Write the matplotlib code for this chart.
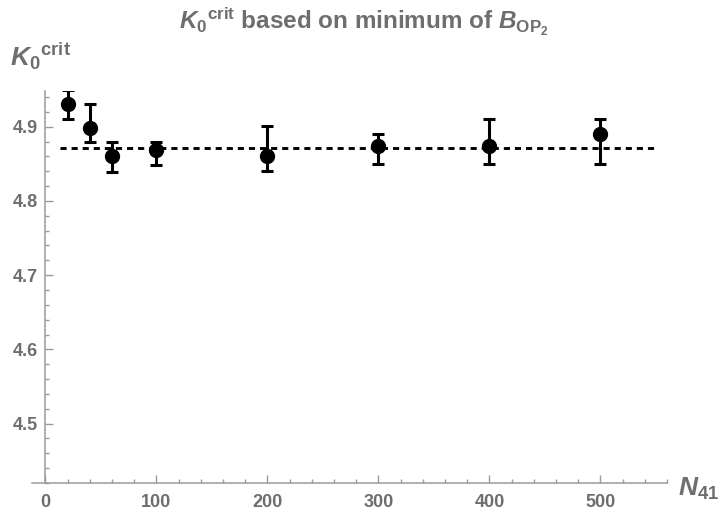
import matplotlib as mp
mp.use('Agg')
import matplotlib.pyplot as plt
import matplotlib.ticker as mticker
import numpy as np

# Daten
n41 = [20, 40, 60, 100, 200, 300, 400, 500]
k0crit = [4.930, 4.898, 4.860, 4.869, 4.860, 4.874, 4.874, 4.890]
err_hi = [4.949, 4.931, 4.880, 4.880, 4.901, 4.890, 4.910, 4.910]
err_lo = [4.910, 4.880, 4.839, 4.849, 4.840, 4.850, 4.850, 4.850]
k0_mean = 4.8715
mean_range = [13, 550]

grey_text = '#6e6e6e'
grey_axis = '#9a9a9a'

mp.rcParams['font.family'] = 'Liberation Sans'
mp.rcParams['mathtext.fontset'] = 'custom'
mp.rcParams['mathtext.rm'] = 'Liberation Sans'
mp.rcParams['mathtext.it'] = 'Liberation Sans:italic'
mp.rcParams['mathtext.bf'] = 'Liberation Sans:bold'
mp.rcParams['mathtext.bfit'] = 'Liberation Sans:italic:bold'

fig = plt.figure(figsize=(7.27, 5.12), dpi=100)
ax = fig.add_axes([0.044, 0.0566, 0.8735, 0.7656])

yerr = [np.array(k0crit) - np.array(err_lo), np.array(err_hi) - np.array(k0crit)]
ax.errorbar(n41, k0crit, yerr=yerr, fmt='o', color='black', markersize=10,
            elinewidth=2.2, capsize=4, capthick=2.2, zorder=3)
ax.plot(mean_range, [k0_mean, k0_mean], color='black', lw=2.1,
        linestyle=(0, (2.1, 1.7)), zorder=2)

ax.set_xlim(-12, 560)
ax.set_ylim(4.42, 4.948)

for s in ['top', 'right']:
    ax.spines[s].set_visible(False)
ax.spines['left'].set_position(('data', 0))
for s in ['left', 'bottom']:
    ax.spines[s].set_color(grey_axis)
    ax.spines[s].set_linewidth(1.1)

ax.xaxis.set_major_locator(mticker.FixedLocator([0, 100, 200, 300, 400, 500]))
ax.xaxis.set_minor_locator(mticker.MultipleLocator(20))
ax.yaxis.set_major_locator(mticker.FixedLocator([4.5, 4.6, 4.7, 4.8, 4.9]))
ax.yaxis.set_minor_locator(mticker.MultipleLocator(0.02))
ax.yaxis.set_major_formatter(mticker.FormatStrFormatter('%.1f'))

ax.tick_params(which='both', direction='in', color=grey_axis, width=1.0,
               labelcolor=grey_text, labelsize=13)
ax.tick_params(which='major', length=5.5)
ax.tick_params(axis='x', which='major', pad=8)
ax.tick_params(axis='y', which='major', pad=5)
ax.tick_params(which='minor', length=3)
for lab in ax.get_xticklabels() + ax.get_yticklabels():
    lab.set_fontweight('bold')

fig.text(0.5, 0.988, r'${\mathbfit{K}_\mathbf{0}}^\mathbf{crit}$ based on minimum of $\mathbfit{B}_{\mathbf{OP}_\mathbf{2}}$',
         ha='center', va='top', fontsize=17.5, fontweight='bold', color=grey_text)
fig.text(0.014, 0.92, r'${\mathbfit{K}_\mathbf{0}}^\mathbf{crit}$', ha='left', va='top',
         fontsize=19, color=grey_text)
fig.text(0.933, 0.045, r'$\mathbfit{N}_\mathbf{41}$', ha='left', va='center',
         fontsize=19, color=grey_text)

plt.savefig('out.png', dpi=100)
